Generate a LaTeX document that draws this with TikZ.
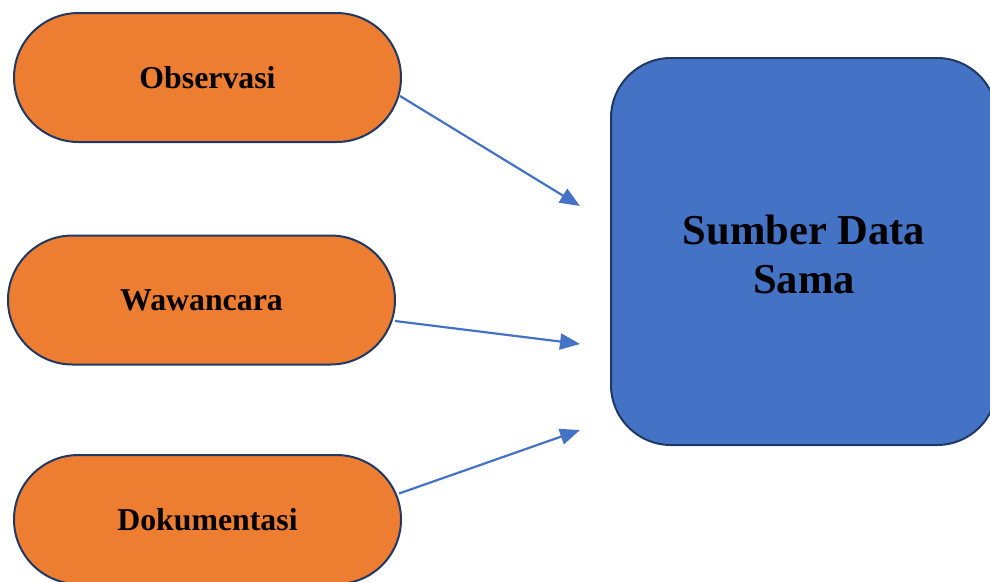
\documentclass[tikz,border=0pt]{standalone}
\usepackage{fontspec}
\setmainfont{Liberation Serif}
\usetikzlibrary{arrows.meta}
\definecolor{pillorange}{HTML}{ED7D31}
\definecolor{boxblue}{HTML}{4472C4}
\definecolor{edgenavy}{HTML}{1F3864}
\definecolor{arrowblue}{HTML}{4472C4}
\begin{document}
\begin{tikzpicture}[x=1pt,y=-1pt,
  pill/.style={draw=edgenavy, line width=2pt, fill=pillorange, rounded corners=64.5pt,
    minimum width=387pt, minimum height=129pt, inner sep=0pt,
    font=\fontsize{31.8}{36}\selectfont\bfseries},
  bigbox/.style={draw=edgenavy, line width=2pt, fill=boxblue, rounded corners=60pt,
    minimum width=386pt, minimum height=387pt, inner sep=0pt},
  bigtext/.style={font=\fontsize{42.6}{49}\selectfont\bfseries, align=center, inner sep=0pt},
  arr/.style={draw=arrowblue, line width=2.2pt, -{Triangle[length=20pt,width=16pt]}}]
\useasboundingbox (0,0) rectangle (990,581);
\node[pill] (obs) at (207.5,77.5) {Observasi};
\node[pill] (waw) at (201.5,300) {Wawancara};
\node[pill] (dok) at (207.5,519.5) {Dokumentasi};
\node[bigbox] (src) at (804,251.5) {};
\node[bigtext] (srctext) at ([yshift=-3pt]src.center) {Sumber Data\\Sama};
\coordinate (t1) at (580,206);
\coordinate (t2) at (580,344);
\coordinate (t3) at (580,430);
\draw[arr] ([shift={(-2,18.5)}]obs.east) -- (t1);
\draw[arr] ([shift={(-1,21)}]waw.east) -- (t2);
\draw[arr] ([shift={(-3,-26)}]dok.east) -- (t3);
\end{tikzpicture}
\end{document}
